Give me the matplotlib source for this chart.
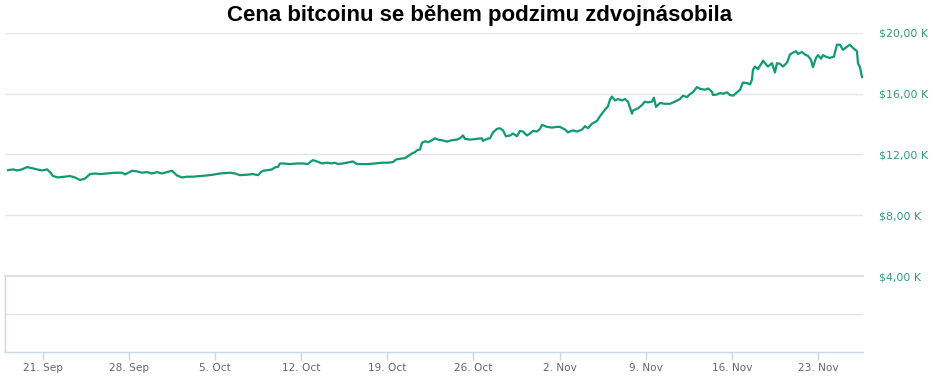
import matplotlib
matplotlib.use("Agg")
import matplotlib.pyplot as plt
from matplotlib.ticker import FuncFormatter, FixedLocator

title = "Cena bitcoinu se během podzimu zdvojnásobila"

# days relative to 21 Sep 2020
day_offsets = [
    -2.85, -2.44, -2.11, -1.71, -1.30, -0.89, -0.49, -0.08, 0.33, 0.57,
    0.81, 1.22, 1.79, 2.20, 2.60, 3.01, 3.41, 3.82, 4.23, 4.63,
    5.20, 5.85, 6.42, 6.67, 7.24, 7.64, 8.05, 8.46, 8.86, 9.27,
    9.67, 10.08, 10.49, 10.65, 10.89, 11.30, 11.71, 12.20, 12.76, 13.33,
    13.82, 14.39, 15.20, 15.61, 16.02, 16.59, 17.07, 17.48, 17.72, 17.89,
    18.29, 18.62, 18.86, 19.11, 19.27, 19.51, 20.08, 20.65, 21.14, 21.54,
    21.71, 21.95, 22.28, 22.68, 23.09, 23.50, 23.74, 23.98, 24.39, 24.96,
    25.20, 25.53, 25.93, 26.42, 26.99, 27.56, 28.05, 28.46, 28.70, 29.02,
    29.43, 29.67, 30.00, 30.24, 30.41, 30.65, 30.81, 31.06, 31.30, 31.63,
    31.87, 32.11, 32.44, 32.85, 33.25, 33.66, 33.90, 34.15, 34.31, 34.72,
    35.28, 35.69, 35.77, 36.10, 36.34, 36.59, 36.91, 37.15, 37.40, 37.64,
    37.97, 38.21, 38.54, 38.78, 39.02, 39.35, 39.59, 39.84, 40.16, 40.41,
    40.57, 40.98, 41.38, 41.79, 42.03, 42.44, 42.68, 43.09, 43.41, 43.82,
    44.07, 44.31, 44.63, 45.04, 45.28, 45.69, 45.93, 46.10, 46.26, 46.50,
    46.75, 47.07, 47.32, 47.56, 47.89, 47.97, 48.37, 48.70, 48.94, 49.19,
    49.51, 49.67, 49.84, 50.16, 50.57, 50.98, 51.38, 51.79, 52.03, 52.36,
    52.60, 52.85, 53.17, 53.41, 53.82, 54.07, 54.39, 54.47, 54.80, 55.04,
    55.28, 55.61, 55.85, 56.10, 56.42, 56.67, 56.91, 57.24, 57.48, 57.64,
    57.72, 57.89, 58.13, 58.29, 58.46, 58.54, 58.70, 58.94, 59.27, 59.51,
    59.67, 59.92, 60.16, 60.49, 60.73, 60.98, 61.22, 61.38, 61.71, 61.95,
    62.20, 62.44, 62.60, 62.85, 63.01, 63.25, 63.41, 63.74, 63.98, 64.31,
    64.55, 64.80, 65.04, 65.37, 65.61, 65.85, 66.18, 66.26, 66.42, 66.59,
]

price_usd = [
    10970, 11020, 10950, 11020, 11170, 11100, 11020, 10950, 11020, 10840,
    10580, 10490, 10540, 10580, 10490, 10320, 10410, 10710, 10750, 10710,
    10750, 10800, 10800, 10690, 10930, 10890, 10800, 10840, 10750, 10840,
    10750, 10840, 10930, 10800, 10620, 10490, 10540, 10540, 10580, 10620,
    10670, 10750, 10800, 10750, 10640, 10670, 10710, 10640, 10840, 10930,
    10970, 11020, 11150, 11190, 11410, 11410, 11370, 11410, 11410, 11370,
    11500, 11630, 11540, 11410, 11460, 11410, 11460, 11370, 11410, 11500,
    11540, 11370, 11370, 11370, 11410, 11460, 11460, 11500, 11670, 11720,
    11760, 11890, 12070, 12150, 12280, 12330, 12770, 12870, 12810, 12940,
    13070, 12980, 12940, 12850, 12940, 12980, 13070, 13250, 13030, 12980,
    13030, 13070, 12900, 13030, 13070, 13460, 13690, 13730, 13590, 13200,
    13250, 13380, 13200, 13560, 13510, 13250, 13380, 13560, 13510, 13690,
    13950, 13820, 13770, 13820, 13820, 13640, 13460, 13590, 13510, 13640,
    13860, 13730, 14030, 14210, 14510, 14950, 15170, 15610, 15820, 15560,
    15650, 15560, 15650, 15480, 14690, 14900, 15040, 15260, 15480, 15430,
    15480, 15740, 15130, 15390, 15340, 15340, 15480, 15650, 15870, 15780,
    15970, 16110, 16440, 16330, 16260, 16350, 16130, 15920, 15950, 16050,
    16000, 16090, 15920, 15870, 16090, 16260, 16740, 16700, 16610, 16920,
    17570, 17790, 17620, 17840, 18050, 18180, 18010, 17790, 18010, 17400,
    18010, 17970, 17790, 18050, 18580, 18710, 18800, 18620, 18750, 18580,
    18490, 18230, 17750, 18360, 18540, 18310, 18540, 18410, 18360, 18450,
    19230, 19230, 18890, 19100, 19230, 19020, 18800, 18010, 17750, 17100,
]

y_ticks = [4000, 8000, 12000, 16000, 20000]
x_tick_days = [0, 7, 14, 21, 28, 35, 42, 49, 56, 63]
x_tick_labels = ["21. Sep", "28. Sep", "5. Oct", "12. Oct", "19. Oct",
                 "26. Oct", "2. Nov", "9. Nov", "16. Nov", "23. Nov"]

W, H = 933, 378
fig = plt.figure(figsize=(W / 100, H / 100), dpi=100)

line_color = "#119a72"
label_green = "#2e9c78"
grid_color = "#e6e6e6"
axis_color = "#ccd6eb"

left_px, right_px = 5, 863
xlim = (-3.09, 66.67)

# main pane
ax = fig.add_axes([left_px / W, 1 - 276 / H, (right_px - left_px) / W, (276 - 33) / H])
ax.plot(day_offsets, price_usd, color=line_color, lw=1.6, solid_joinstyle="round")
ax.set_xlim(*xlim)
ax.set_ylim(4000, 20000)
for s in ax.spines.values():
    s.set_visible(False)
ax.set_xticks([])
ax.yaxis.tick_right()
ax.yaxis.set_major_locator(FixedLocator(y_ticks))
ax.yaxis.set_major_formatter(FuncFormatter(lambda v, p: ("$%.2f K" % (v / 1000)).replace(".", ",")))
ax.tick_params(axis="y", length=0, pad=11.5, labelsize=7.9, labelcolor=label_green)
ax.grid(axis="y", color=grid_color, lw=1)
ax.set_axisbelow(True)

# lower (empty) pane
ax2 = fig.add_axes([left_px / W, 1 - 352 / H, (right_px - left_px) / W, (352 - 276) / H])
ax2.set_xlim(*xlim)
ax2.set_ylim(0, 2)
ax2.set_yticks([1])
ax2.tick_params(axis="y", length=0, labelleft=False)
ax2.grid(axis="y", color=grid_color, lw=1)
ax2.spines["right"].set_visible(False)
ax2.spines["top"].set_color("#e0e0e0")
ax2.spines["top"].set_linewidth(1.6)
ax2.spines["left"].set_color(axis_color)
ax2.spines["left"].set_linewidth(1)
ax2.spines["bottom"].set_color(axis_color)
ax2.spines["bottom"].set_linewidth(1)
ax2.set_xticks(x_tick_days)
ax2.set_xticklabels(x_tick_labels)
ax2.tick_params(axis="x", length=6, width=1, color=axis_color, pad=2,
                labelsize=7.6, labelcolor="#666666")

fig.text(0.5145, 0.958, title, ha="center", va="center",
         fontsize=16, fontweight="bold", family=["Liberation Sans", "DejaVu Sans"])

fig.savefig("out.png", dpi=100)
